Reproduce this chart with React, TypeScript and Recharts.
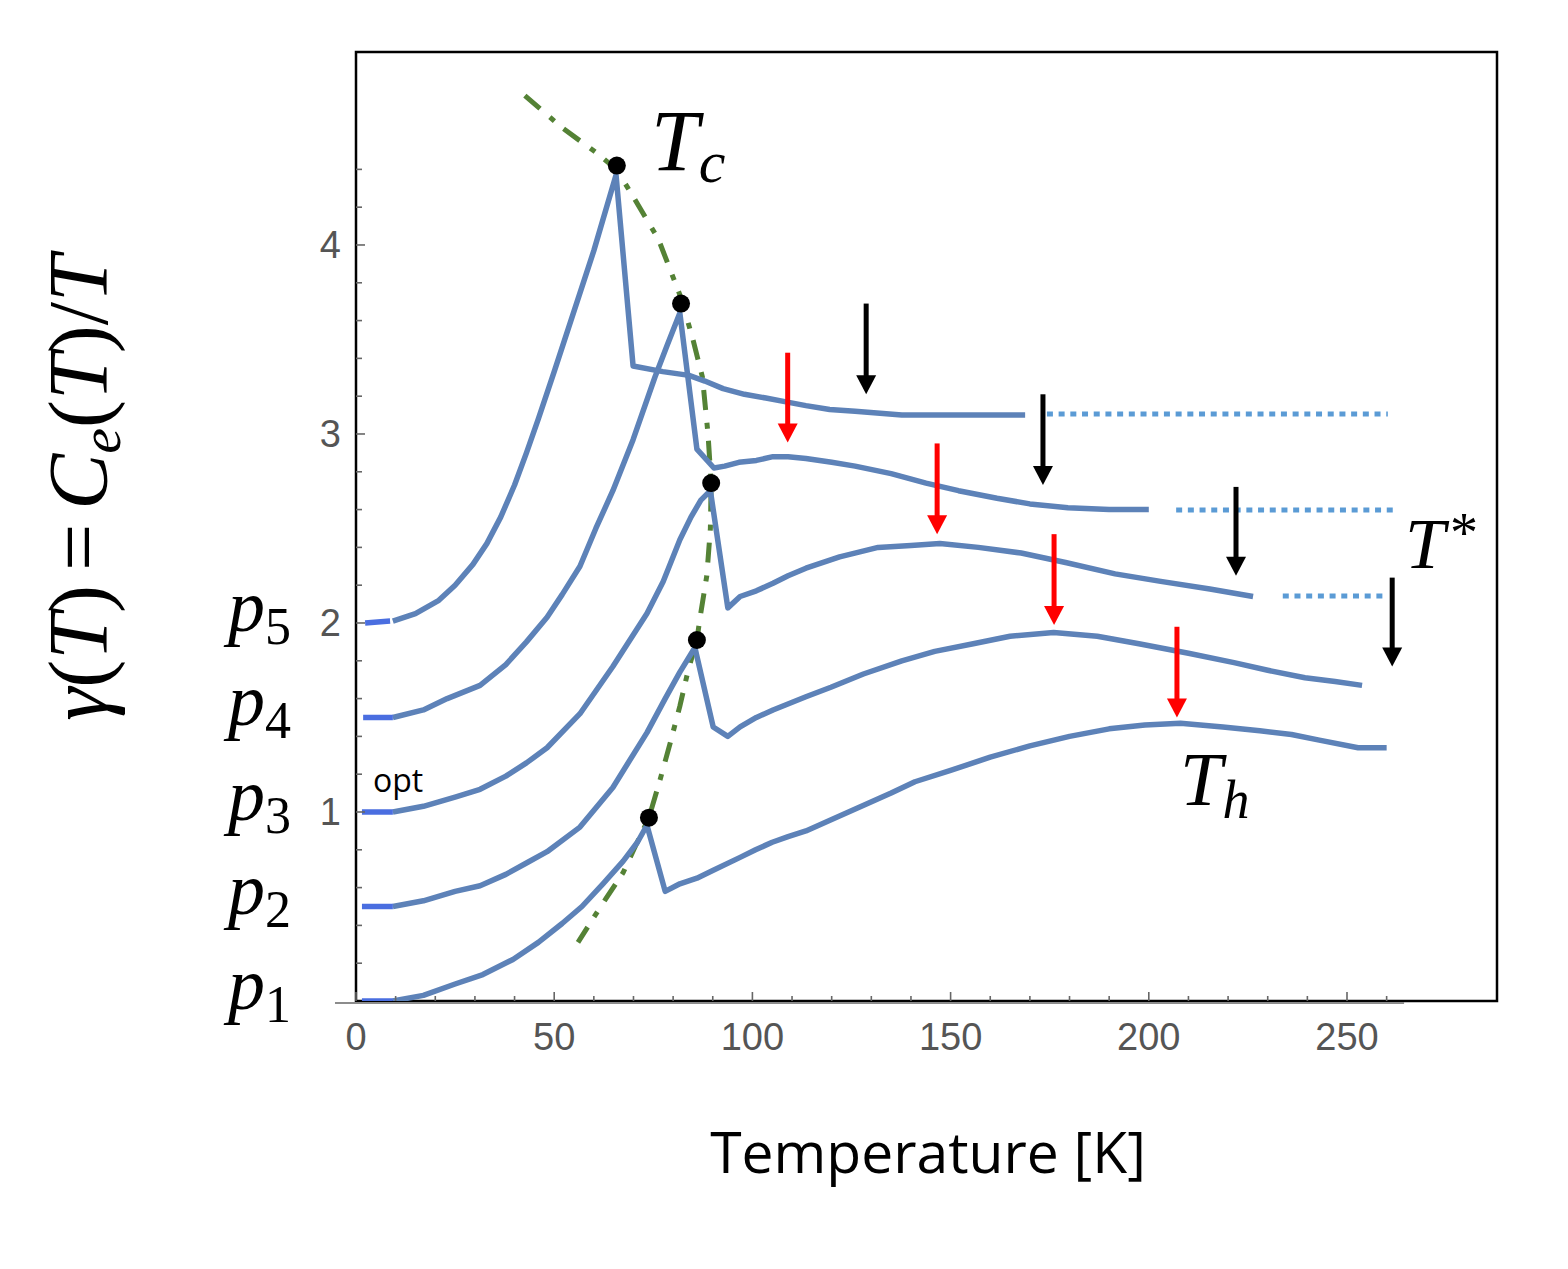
import { ComposedChart, Line, XAxis, YAxis, ReferenceLine, ReferenceArea, ReferenceDot } from 'recharts';

type Pt = [number, number];

// gamma(T) curves for the five dopings, [T in K, gamma]
const p1Curve: Pt[] = [
  [9.3, 0.0], [17, 0.03], [25, 0.09], [32, 0.14], [39.6, 0.22], [46, 0.31], [52, 0.41], [57, 0.5],
  [62.3, 0.62], [67.4, 0.74], [71, 0.84], [73.4, 0.93], [78, 0.58], [81.7, 0.62], [86, 0.65], [90, 0.69],
  [96.9, 0.76], [100.8, 0.8], [105, 0.84], [109, 0.87], [113.5, 0.9], [120, 0.96], [128.5, 1.04], [135, 1.1],
  [141, 1.16], [150, 1.22], [160, 1.29], [170, 1.35], [180, 1.4], [190, 1.44], [199, 1.46], [208, 1.47],
  [218.7, 1.45], [228, 1.43], [236, 1.41], [243, 1.38], [252.8, 1.34], [260, 1.34],
];
const p2Curve: Pt[] = [
  [9.3, 0.5], [17, 0.53], [25, 0.58], [31.3, 0.61], [37.8, 0.67], [43, 0.73], [48.2, 0.79], [56.5, 0.92],
  [64.8, 1.13], [73.4, 1.42], [78, 1.6], [81.7, 1.74], [85.5, 1.87], [90.1, 1.45], [93.8, 1.4], [96.9, 1.45],
  [101, 1.5], [105.2, 1.54], [113.5, 1.61], [119.8, 1.66], [128, 1.73], [137.7, 1.8], [146, 1.85], [155.7, 1.89],
  [165, 1.93], [176, 1.95], [187, 1.93], [197.5, 1.89], [210, 1.84], [221.5, 1.79], [230, 1.75], [239.4, 1.71],
  [247, 1.69], [253.8, 1.67],
];
const p3Curve: Pt[] = [
  [9.3, 1.0], [17, 1.03], [25.2, 1.08], [31.3, 1.12], [37.8, 1.19], [43, 1.26], [48.2, 1.34], [56.5, 1.52],
  [64.8, 1.77], [73.4, 2.05], [77.5, 2.22], [81.7, 2.44], [84.5, 2.56], [87, 2.65], [89.4, 2.7], [93.8, 2.08],
  [96.9, 2.14], [101, 2.17], [105.2, 2.21], [109, 2.25], [113.5, 2.29], [122, 2.35], [131.7, 2.4], [140, 2.41],
  [147.3, 2.42], [157, 2.4], [167.8, 2.37], [179, 2.32], [191.5, 2.26], [203, 2.22], [215.4, 2.18], [226.3, 2.14],
];
const p4Curve: Pt[] = [
  [9.3, 1.5], [17, 1.54], [23, 1.6], [31.3, 1.67], [37.8, 1.78], [43, 1.9], [48.2, 2.03], [52, 2.15],
  [56.5, 2.3], [60.5, 2.5], [64.8, 2.7], [69.9, 2.97], [75.4, 3.3], [78.5, 3.47], [81.7, 3.64], [86, 2.92],
  [90.3, 2.82], [93, 2.83], [96.6, 2.85], [101, 2.86], [105.2, 2.88], [109, 2.88], [113.5, 2.87], [120, 2.85],
  [125.9, 2.83], [135, 2.79], [143.8, 2.74], [152, 2.7], [161.7, 2.66], [170, 2.63], [179.6, 2.61], [190, 2.6],
  [200, 2.6],
];
const p5Curve: Pt[] = [
  [9.3, 2.01], [15, 2.05], [20.9, 2.12], [25, 2.2], [29.5, 2.31], [33, 2.42], [36.5, 2.56], [40, 2.73],
  [43, 2.9], [46, 3.08], [50, 3.33], [55, 3.65], [60, 3.97], [65.6, 4.37], [69.9, 3.36], [77.4, 3.33],
  [84, 3.31], [88, 3.28], [92.6, 3.24], [98, 3.21], [103.4, 3.19], [108.5, 3.17], [113.5, 3.15], [119.5, 3.13],
  [125.9, 3.12], [137.7, 3.1], [150, 3.1], [162.5, 3.1], [168.8, 3.1],
];
const curves = [p1Curve, p2Curve, p3Curve, p4Curve, p5Curve];

// low-T stubs, highlighted
const startStubs: Pt[][] = [
  [[1.5, 0.0], [9.3, 0.0]],
  [[1.5, 0.5], [9.3, 0.5]],
  [[1.5, 1.0], [9.3, 1.0]],
  [[1.8, 1.5], [9.3, 1.5]],
  [[2.3, 2.0], [8.6, 2.01]],
];

// dotted continuation above T*
const pseudogapTails: Pt[][] = [
  [[174.3, 3.106], [260.3, 3.106]],
  [[206.9, 2.598], [261.6, 2.598]],
  [[233.8, 2.143], [259.6, 2.143]],
];

// Tc locus (dash-dot) and the Tc points
const tcLocus: Pt[] = [
  [42.6, 4.79], [52, 4.62], [60.5, 4.49], [65.7, 4.4], [69.8, 4.26], [76.3, 4.03], [82, 3.72], [85, 3.5],
  [87.4, 3.3], [88.8, 3.0], [89.6, 2.74], [89.4, 2.5], [88.5, 2.25], [86.8, 2.03], [86, 1.91], [83.8, 1.75],
  [81.7, 1.56], [79.2, 1.36], [76.7, 1.17], [73.9, 0.97], [70.5, 0.82], [67.4, 0.68], [63, 0.54], [59, 0.41],
  [56, 0.31],
];
const tcPoints: Pt[] = [[65.8, 4.42], [82, 3.69], [89.6, 2.74], [86, 1.91], [73.9, 0.97]];

// arrows: [T, gamma at tail, gamma at tip]
const thArrows: [number, number, number][] = [
  [108.9, 3.43, 2.955], [146.6, 2.95, 2.47], [176.1, 2.47, 1.99], [207.1, 1.98, 1.5],
];
const tStarArrows: [number, number, number][] = [
  [128.7, 3.69, 3.21], [173.3, 3.21, 2.73], [222, 2.72, 2.25], [261.4, 2.24, 1.77],
];

const xTicks = [0, 10, 20, 30, 40, 50, 60, 70, 80, 90, 100, 110, 120, 130, 140, 150, 160, 170, 180, 190, 200, 210, 220, 230, 240, 250, 260];
const xTickLabels = [0, 50, 100, 150, 200, 250];
const yTicks = [0.2, 0.4, 0.6, 0.8, 1, 1.2, 1.4, 1.6, 1.8, 2, 2.2, 2.4, 2.6, 2.8, 3, 3.2, 3.4, 3.6, 3.8, 4, 4.2, 4.4];
const yTickLabels = [1, 2, 3, 4];
const dopingLevels = [0, 0.5, 1, 1.5, 2];

const W = 1552;
const H = 1250;
const X_MAX = 287.84;
const Y_MAX = 5.021;
const BLUE = '#5d82b8';
const STUB = '#4a6ee0';
const TAIL = '#5b9bd5';
const GREEN = '#548235';
const SERIF = '"Liberation Serif", "DejaVu Serif", serif';
const SANS = '"Liberation Sans", Arial, sans-serif';

const rows = (pts: Pt[]) => pts.map(([t, g]) => ({ t, g }));

function XTick(props: any) {
  const { x, y, payload } = props;
  const major = xTickLabels.includes(payload.value);
  return (
    <g>
      <line x1={x} x2={x} y1={y} y2={y - (major ? 9 : 5)} stroke="#666" strokeWidth={1.6} />
      {major && (
        <text x={x} y={y + 49} textAnchor="middle" fontFamily={SANS} fontSize={38} fill="#555">
          {payload.value}
        </text>
      )}
    </g>
  );
}

function YTick(props: any) {
  const { x, y, payload } = props;
  const major = yTickLabels.some((v) => Math.abs(v - payload.value) < 1e-6);
  return (
    <g>
      <line x1={x} x2={x + (major ? 9 : 6)} y1={y} y2={y} stroke="#666" strokeWidth={1.6} />
      {major && (
        <text x={x - 15} y={y + 13} textAnchor="end" fontFamily={SANS} fontSize={38} fill="#555">
          {Math.round(payload.value)}
        </text>
      )}
    </g>
  );
}

const arrowShape = (color: string) => (p: any) => {
  const { x1, y1, y2 } = p;
  const top = Math.min(y1, y2);
  const tip = Math.max(y1, y2);
  return (
    <g>
      <line x1={x1} x2={x1} y1={top} y2={tip - 15} stroke={color} strokeWidth={5} />
      <polygon points={`${x1 - 10},${tip - 19} ${x1 + 10},${tip - 19} ${x1},${tip}`} fill={color} />
    </g>
  );
};

export default function App() {
  return (
    <div style={{ position: 'relative', width: W, height: H }}>
      <ComposedChart width={W} height={H} margin={{ top: 44, right: 63, bottom: 256, left: 347 }}>
        <XAxis
          type="number"
          dataKey="t"
          domain={[0, X_MAX]}
          ticks={xTicks}
          interval={0}
          height={1}
          tickSize={0}
          tickMargin={0}
          axisLine={false}
          tickLine={false}
          tick={<XTick />}
          allowDataOverflow
        />
        <YAxis
          type="number"
          dataKey="g"
          domain={[0, Y_MAX]}
          ticks={yTicks}
          interval={0}
          width={1}
          tickSize={0}
          tickMargin={0}
          axisLine={false}
          tickLine={false}
          tick={<YTick />}
          allowDataOverflow
        />
        <ReferenceArea x1={0} x2={X_MAX} y1={0} y2={Y_MAX} fill="none" stroke="#000" strokeWidth={2.5} ifOverflow="visible" />
        <ReferenceLine segment={[{ x: -5.3, y: -0.011 }, { x: 264.4, y: -0.011 }]} stroke="#8c8c8c" strokeWidth={2} ifOverflow="visible" />

        <Line data={rows(tcLocus)} dataKey="g" name="tc-locus" type="linear" stroke={GREEN} strokeWidth={5} strokeDasharray="20 13 6 12" dot={false} activeDot={false} isAnimationActive={false} />
        {curves.map((c, i) => (
          <Line key={`p${i + 1}`} data={rows(c)} dataKey="g" name={`p${i + 1}`} type="linear" stroke={BLUE} strokeWidth={5.5} strokeLinejoin="round" dot={false} activeDot={false} isAnimationActive={false} />
        ))}
        {startStubs.map((c, i) => (
          <Line key={`s${i}`} data={rows(c)} dataKey="g" name={`stub${i}`} type="linear" stroke={STUB} strokeWidth={5.5} dot={false} activeDot={false} isAnimationActive={false} />
        ))}
        {pseudogapTails.map((c, i) => (
          <Line key={`d${i}`} data={rows(c)} dataKey="g" name={`tail${i}`} type="linear" stroke={TAIL} strokeWidth={5} strokeDasharray="6 5.7" dot={false} activeDot={false} isAnimationActive={false} />
        ))}
        {tcPoints.map(([t, g], i) => (
          <ReferenceDot key={`tc${i}`} x={t} y={g} r={9} fill="#000" stroke="none" ifOverflow="visible" />
        ))}
        {thArrows.map(([t, a, b], i) => (
          <ReferenceLine key={`ra${i}`} segment={[{ x: t, y: a }, { x: t, y: b }]} ifOverflow="visible" shape={arrowShape('#ff0000')} />
        ))}
        {tStarArrows.map(([t, a, b], i) => (
          <ReferenceLine key={`ba${i}`} segment={[{ x: t, y: a }, { x: t, y: b }]} ifOverflow="visible" shape={arrowShape('#000')} />
        ))}

        <ReferenceDot x={74.4} y={4.397} ifOverflow="visible" shape={(p: any) => (
          <text x={p.cx} y={p.cy} fontFamily={SERIF} fontStyle="italic" fontSize={86}>
            T<tspan fontSize={60} dy={12}>c</tspan>
          </text>
        )} />
        <ReferenceDot x={264.6} y={2.291} ifOverflow="visible" shape={(p: any) => (
          <text x={p.cx} y={p.cy} fontFamily={SERIF} fontSize={72}>
            <tspan fontStyle="italic">T</tspan>
            <tspan fontSize={56} dx={5} dy={-16}>*</tspan>
          </text>
        )} />
        <ReferenceDot x={207.9} y={1.037} ifOverflow="visible" shape={(p: any) => (
          <text x={p.cx} y={p.cy} fontFamily={SERIF} fontStyle="italic" fontSize={76}>
            T<tspan fontSize={54} dy={13}>h</tspan>
          </text>
        )} />
        <ReferenceDot x={4.3} y={1.106} ifOverflow="visible" shape={(p: any) => (
          <text x={p.cx} y={p.cy} fontFamily='"Open Sans", sans-serif' fontSize={32} fill="#000">opt</text>
        )} />
        {dopingLevels.map((lv, i) => (
          <ReferenceDot key={`pl${i}`} x={-32.3} y={lv - 0.04} ifOverflow="visible" shape={(p: any) => (
            <text x={p.cx} y={p.cy} fontFamily={SERIF} fontSize={74}>
              <tspan fontStyle="italic">p</tspan>
              <tspan fontSize={52} dy={13}>{i + 1}</tspan>
            </text>
          )} />
        ))}
      </ComposedChart>

      <svg width={W} height={H} style={{ position: 'absolute', left: 0, top: 0, pointerEvents: 'none' }}>
        <text x={920} y={1165} textAnchor="middle" fontFamily='"Open Sans", sans-serif' fontSize={57} fill="#000">
          Temperature [K]
        </text>
        <text transform="rotate(-90)" x={-480} y={99} textAnchor="middle" fontFamily={SERIF} fontSize={84} fill="#000">
          <tspan fontStyle="italic">γ</tspan>(<tspan fontStyle="italic">T</tspan>)<tspan dx={14}>=</tspan>
          <tspan fontStyle="italic" dx={14}>C</tspan>
          <tspan fontStyle="italic" fontSize={58} dy={13}>e</tspan>
          <tspan dy={-13}>(</tspan><tspan fontStyle="italic">T</tspan>)/<tspan fontStyle="italic">T</tspan>
        </text>
      </svg>
    </div>
  );
}
